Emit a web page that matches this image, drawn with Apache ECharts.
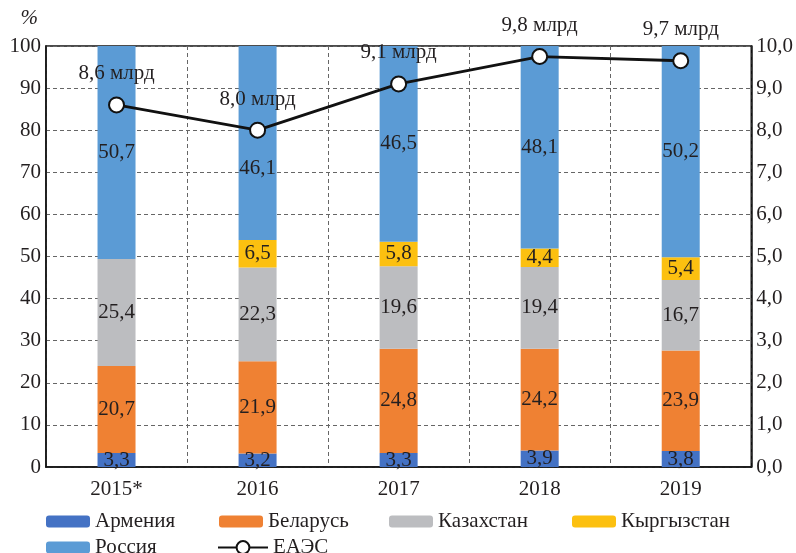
<!DOCTYPE html>
<html>
<head>
<meta charset="utf-8">
<script src="https://cdn.jsdelivr.net/npm/echarts@6/dist/echarts.min.js"></script>
<style>
html,body{margin:0;padding:0;background:#fff;}
#chart{width:796px;height:553px;}
</style>
</head>
<body>
<div id="chart"></div>
<script>
const categories = ['2015*', '2016', '2017', '2018', '2019'];
const armenia    = [3.3, 3.2, 3.3, 3.9, 3.8];
const belarus    = [20.7, 21.9, 24.8, 24.2, 23.9];
const kazakhstan = [25.4, 22.3, 19.6, 19.4, 16.7];
const kyrgyzstan = [null, 6.5, 5.8, 4.4, 5.4];
const russia     = [50.7, 46.1, 46.5, 48.1, 50.2];
const eaeu       = [8.6, 8.0, 9.1, 9.75, 9.65];
const seriesNames = ['Армения', 'Беларусь', 'Казахстан', 'Кыргызстан', 'Россия', 'ЕАЭС'];
const colors = ['#4472C4', '#EF8133', '#BCBDC0', '#FCC010', '#5B9BD5'];

const FONT = '"Liberation Serif", "DejaVu Serif", serif';
const FS = 21;
const TXT = '#231F20';
const comma = v => Number(v).toFixed(1).replace('.', ',');

const chart = echarts.init(document.getElementById('chart'), null, {renderer: 'canvas'});

const barData = [armenia, belarus, kazakhstan, kyrgyzstan, russia];
const barSeries = barData.map((d, i) => ({
  name: seriesNames[i],
  type: 'bar',
  stack: 'total',
  // the Russia 2016 label is nudged down in the original to clear the line marker
  data: d.map((v, j) => (i === 4 && j === 1) ? {value: v, label: {offset: [0, 25]}} : v),
  barWidth: 38,
  itemStyle: {color: colors[i]},
  label: {
    show: true,
    position: 'inside',
    fontFamily: FONT,
    fontSize: FS,
    color: TXT,
    formatter: p => (p.value == null ? '' : comma(p.value))
  },
  z: 2
}));

const legendPos = [
  {left: 46, top: 511},
  {left: 219, top: 511},
  {left: 389, top: 511},
  {left: 572, top: 511},
  {left: 46, top: 537},
  {left: 217, top: 537}
];
const legends = seriesNames.map((n, i) => ({
  data: [n],
  left: legendPos[i].left,
  top: legendPos[i].top,
  itemWidth: i === 5 ? 50 : 44,
  itemHeight: i === 5 ? 16 : 12,
  itemGap: 0,
  padding: 0,
  selectedMode: false,
  textStyle: {fontFamily: FONT, fontSize: FS, color: TXT, padding: [0, 0, 0, 0]}
}));

chart.setOption({
  animation: false,
  backgroundColor: '#fff',
  grid: {left: 46, right: 44, top: 46, bottom: 86, show: true, borderColor: '#111', borderWidth: 1.5, containLabel: false},
  legend: legends,
  xAxis: {
    type: 'category',
    data: categories,
    axisLine: {lineStyle: {color: '#111', width: 1.5}},
    axisTick: {show: false},
    axisLabel: {fontFamily: FONT, fontSize: FS, color: TXT, margin: 12},
    splitLine: {show: true, interval: 0, lineStyle: {type: [4, 3], color: '#666', width: 1}}
  },
  yAxis: [
    {
      type: 'value',
      min: 0, max: 100, interval: 10,
      name: '%',
      nameLocation: 'end',
      nameGap: 17,
      nameTextStyle: {fontFamily: FONT, fontSize: FS, fontStyle: 'italic', color: TXT, align: 'right', padding: [0, 8, 0, 0]},
      axisLine: {show: true, lineStyle: {color: '#111', width: 1.5}},
      axisTick: {show: false},
      axisLabel: {fontFamily: FONT, fontSize: FS, color: TXT, margin: 5},
      splitLine: {show: true, lineStyle: {type: [4, 3], color: '#666', width: 1}}
    },
    {
      type: 'value',
      min: 0, max: 10, interval: 1,
      position: 'right',
      axisLine: {show: true, lineStyle: {color: '#111', width: 1.5}},
      axisTick: {show: false},
      axisLabel: {fontFamily: FONT, fontSize: FS, color: TXT, margin: 5, formatter: v => comma(v)},
      splitLine: {show: false}
    }
  ],
  series: barSeries.concat([{
    name: seriesNames[5],
    type: 'line',
    yAxisIndex: 1,
    data: eaeu,
    symbol: 'circle',
    symbolSize: 15,
    lineStyle: {color: '#111', width: 2.8},
    itemStyle: {color: '#fff', borderColor: '#111', borderWidth: 2},
    label: {
      show: true,
      position: 'top',
      distance: 12,
      fontFamily: FONT,
      fontSize: FS,
      color: TXT,
      formatter: p => comma(p.value) + ' млрд'
    },
    z: 5
  }])
});
</script>
</body>
</html>
